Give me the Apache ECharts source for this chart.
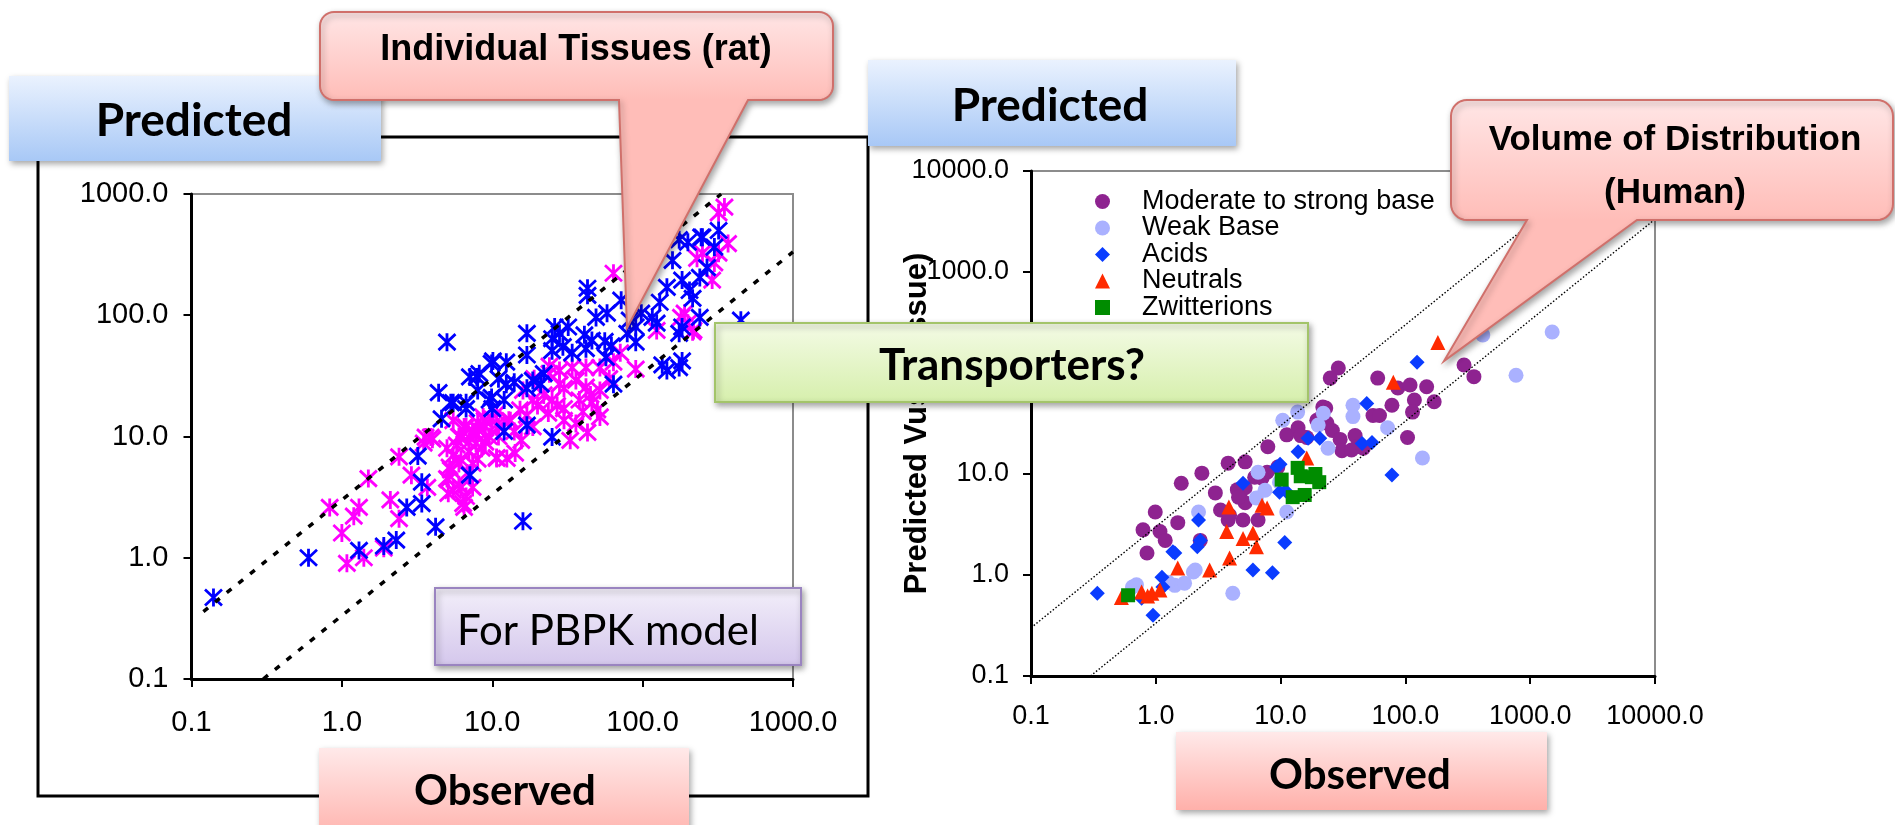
<!DOCTYPE html>
<html><head><meta charset="utf-8">
<script src="https://cdn.jsdelivr.net/npm/echarts@6/dist/echarts.min.js"></script>
<style>html,body{margin:0;padding:0;background:#fff}#c{width:1895px;height:825px}</style>
</head><body><div id="c"></div>
<script>
// ---------- Left chart: individual tissues (rat) ----------
const leftTickLabels = ['0.1', '1.0', '10.0', '100.0', '1000.0'];
const leftMagenta = [
  [0.83,2.6],[1.0,1.6],[1.08,0.9],[1.2,2.2],[1.3,2.6],[1.4,1.0],[1.5,4.5],[1.9,1.2],[2.1,3.0],[2.4,2.1],
  [2.4,6.8],[2.9,4.8],[3.6,9.9],[4.0,9.5],[3.7,3.8],[5.5,3.6],[5.2,5.6],[6.4,2.8],[7.4,3.8],[7.4,6.0],
  [10.7,6.6],[12.5,6.6],[14.2,7.3],[50,16.6],[52,14.5],[43,10.8],[33,9.3],[30,13.6],[36,12.8],[23.6,15.6],
  [18.6,12],[15.6,9.3],[10.7,6.7],[12.9,13.6],[10.7,15.6],[8.1,11.3],[7.4,10.6],[6.2,9.9],[8.9,13.6],[6.2,6.4],
  [5.3,5.3],[6.2,3.8],[6.7,3.2],[6.5,2.6],[5.1,4.4],[5.1,3.4],[3.9,9.9],[3.5,8.8],[5,8],[5.5,7],
  [6,10],[6.5,12],[7,9],[7.5,11],[8,13],[8.5,8],[9,12],[9.5,10],[10,14],[11,12],
  [6,6],[6.8,5],[8,6.5],[5,4.5],[6,4],[7,7.5],[9,9],[11,10],[5.8,8.5],[7.8,8.8],
  [36,29],[42,25.5],[52,24],[28,27],[22,22],[18.6,20],[15.3,16.6],[13.2,13.5],[8.7,14.5],[6.7,12],
  [5.5,13.5],[10.7,12.5],[34,37],[28,35],[24,33],[42,37],[52,37],[64,41],[71,49],[90,36],
  [124,75],[180,96],[200,86],[215,73],[64,222],[350,780],[320,700],[370,390],[320,325],[230,295],
  [290,195],[190,104],[218,75],[250,325],[300,270],[20,18],[25,20],[30,17],[38,20],[45,22],
  [60,30],[16,24],[19,30],[24,38],[30,25],[27,18],[14,11],[17,15],[40,16],[46,19]
];
const leftBlue = [
  [0.14,0.47],[0.6,1.0],[1.3,1.15],[1.9,1.25],[2.3,1.4],[2.7,2.6],[3.4,2.8],[4.2,1.8],[3.4,4.2],[3.2,6.9],
  [7.1,4.8],[16,2.0],[4.6,14],[12,11],[17,12.4],[5.5,19],[6.7,19],[9.6,20],[25,9.9],[5.0,60],
  [4.4,23],[5.3,19],[6.7,17],[7.9,31],[9.9,21],[9.9,40],[12.4,41],[12.4,27],[17,71],[17,47],
  [17,25],[21,27],[25,64],[28,71],[29.5,55],[34,49],[32,80],[43,167],[43,146],[41,69],
  [49,96],[58,104],[62,56],[72,133],[79,71],[82,91],[90,80],[64,27],[57,45],[42,53],
  [46,62],[98,104],[116,96],[130,128],[145,170],[124,86],[90,60],[158,284],[200,400],[245,440],
  [300,365],[183,195],[205,160],[215,138],[240,205],[268,247],[183,80],[175,71],[240,96],[145,35],
  [175,37],[183,42],[450,91],[26,80],[25,51],[175,420],[250,440],[320,500],[11,30],[14,28],
  [18.6,29],[22,33],[8,24],[10,17],[12,20],[7.1,31],[8.2,33],[10.1,42],[56,61],[135,39]
];
const leftUpperGuide = [[0.12, 0.36], [333, 1000]];
const leftLowerGuide = [[0.3, 0.1], [1000, 333]];

// ---------- Right chart: volume of distribution (human) ----------
const rightTickLabels = ['0.1', '1.0', '10.0', '100.0', '1000.0', '10000.0'];
const legendNames = ['Moderate to strong base', 'Weak Base', 'Acids', 'Neutrals', 'Zwitterions'];
const strongBase = [
  [29,112],[25,89],[60,89],[87,71],[109,76],[148,73],[118,54],[170,52],[114,41],[78,48],
  [55,38],[62,38],[104,23],[23,45],[19.5,34],[23.5,32],[26,27],[30,22],[31,17],[39.5,24],
  [41,18.6],[37,17.3],[46,18],[16.2,23],[11.2,24.4],[13.8,28.7],[7.9,18.6],[9.5,11.7],[3.8,12.8],[5.2,13.2],
  [3.0,6.5],[4.7,6.2],[5.2,5.2],[3.3,4.4],[6.2,9.3],[7.8,10.4],[5.0,3.5],[6.6,3.5],[3.8,3.5],[2.34,10.2],
  [1.6,8.1],[0.99,4.2],[0.79,2.8],[1.08,2.7],[1.19,2.2],[1.5,3.3],[0.85,1.65],[2.27,2.2],[5.2,7.3],[4.5,7.0],
  [295,120],[354,92],[21.8,46],[7.1,9.1],[4.6,5.9],[3.9,3.9],[14.5,24],[21,36]
];
const weakBase = [
  [13.7,41],[10.4,34],[38,48],[38,37],[20,30.5],[24,18],[72,28.7],[137,14.4],[6.6,10.4],[6.4,5.8],
  [7.5,6.9],[11.2,4.2],[2.2,4.2],[2.07,1.12],[4.14,0.66],[1.42,0.79],[1.7,0.83],[0.65,0.76],[417,238],[1500,255],
  [770,95],[0.7,0.8],[1.25,0.85],[22,40],[9.8,8.3],[2.0,1.07]
];
const acids = [
  [124,128],[49,50],[16.6,22.6],[20.6,22.6],[45,20],[54,20.5],[13.8,16.6],[9.3,11.7],[5.0,8.1],[9.8,6.6],
  [78,9.8],[2.2,3.5],[1.42,1.65],[2.15,1.9],[2.27,2.2],[10.8,2.1],[6.0,1.12],[8.6,1.05],[1.12,0.95],[1.14,0.76],
  [0.34,0.66],[0.95,0.40],[0.77,0.59],[9.9,12.5],[11,6.8],[1.37,1.7]
];
const neutrals = [
  [182,200],[80,81],[16.2,14.4],[3.85,4.7],[7.1,4.9],[7.8,4.6],[3.7,2.7],[5.0,2.3],[6.0,2.6],[6.4,1.9],
  [3.9,1.47],[2.7,1.12],[1.5,1.17],[0.77,0.68],[0.93,0.66],[1.08,0.71],[0.53,0.6],[0.86,0.62]
];
const zwitterions = [
  [0.6,0.63],[13.7,11.5],[10.2,8.8],[17.8,9.3],[20.4,8.3],[12.5,5.9],[15.6,6.2],[14.5,9.5],[19,10]
];
const rightUpperGuide = [[0.1, 0.3], [3333, 10000]];
const rightLowerGuide = [[0.3, 0.1], [10000, 3333]];

// ---------- helpers ----------
const ARIAL = '"Liberation Sans", Arial, sans-serif';
const CALIBRI = 'Lato, "Open Sans", sans-serif';
const ASTERISK = 'path://M0,0L16,16M16,0L0,16M8,-1L8,17';

function logAxis(gridIndex, min, max, labels, fontSize, margin, extra) {
  const base = Math.round(Math.log10(min));
  return Object.assign({
    type: 'log', logBase: 10, gridIndex, min, max,
    axisLine: { show: true, onZero: false, lineStyle: { color: '#000', width: 3 } },
    axisTick: { show: true, inside: false, length: 8, lineStyle: { color: '#000', width: 2 } },
    minorTick: { show: false }, splitLine: { show: false }, minorSplitLine: { show: false },
    axisLabel: {
      fontSize, fontFamily: ARIAL, color: '#000', margin, hideOverlap: false,
      formatter: v => labels[Math.round(Math.log10(v)) - base]
    }
  }, extra || {});
}

function gradient(c1, c2, mid) {
  const stops = mid != null
    ? [{ offset: 0, color: c1 }, { offset: mid, color: c2 }, { offset: 1, color: c2 }]
    : [{ offset: 0, color: c1 }, { offset: 1, color: c2 }];
  return new echarts.graphic.LinearGradient(0, 0, 0, 1, stops);
}
const SHADOW = { shadowBlur: 6, shadowOffsetX: 2, shadowOffsetY: 3, shadowColor: 'rgba(0,0,0,0.35)' };

function box(x, y, w, h, c1, c2, stroke) {
  return {
    type: 'rect', z: 10, shape: { x, y, width: w, height: h },
    style: Object.assign({ fill: gradient(c1, c2), stroke: stroke || 'none', lineWidth: stroke ? 2 : 0 }, SHADOW)
  };
}
function label(text, x, y, size, family, weight, align) {
  return {
    type: 'text', z: 11,
    style: { text, x, y, fontSize: size, fontFamily: family, fontWeight: weight || 'bold',
      fill: '#000', align: align || 'center', verticalAlign: 'middle' }
  };
}
function callout(x1, y1, x2, y2, r, baseL, baseR, tip) {
  const pts = [];
  const arc = (cx, cy, a0, a1) => {
    for (let i = 0; i <= 8; i++) {
      const a = (a0 + (a1 - a0) * i / 8) * Math.PI / 180;
      pts.push([cx + r * Math.cos(a), cy + r * Math.sin(a)]);
    }
  };
  arc(x1 + r, y1 + r, 180, 270);
  arc(x2 - r, y1 + r, 270, 360);
  arc(x2 - r, y2 - r, 0, 90);
  pts.push([baseR, y2], tip, [baseL, y2]);
  arc(x1 + r, y2 - r, 90, 180);
  const mid = (y2 - y1) / (Math.max(y2, tip[1]) - y1);
  return {
    type: 'polygon', z: 10, shape: { points: pts },
    style: Object.assign({ fill: gradient('#ffe6e6', '#ffbdb8', mid), stroke: '#d0706b', lineWidth: 2 }, SHADOW)
  };
}

function asteriskSeries(name, data, color) {
  return {
    name, type: 'scatter', xAxisIndex: 0, yAxisIndex: 0, data,
    symbol: ASTERISK, symbolSize: [17, 18], symbolKeepAspect: false,
    itemStyle: { color: 'rgba(0,0,0,0)', borderColor: color, borderWidth: 2.9, opacity: 1 },
    emphasis: { disabled: true }, z: 2
  };
}
function markerSeries(name, data, symbol, size, color) {
  return {
    name, type: 'scatter', xAxisIndex: 1, yAxisIndex: 1, data, symbol, symbolSize: size,
    itemStyle: { color, opacity: 1 }, emphasis: { disabled: true }, z: 2
  };
}
function guide(data, xi, width, dash) {
  return {
    type: 'line', xAxisIndex: xi, yAxisIndex: xi, data, symbol: 'none', silent: true, z: 3,
    lineStyle: { color: '#000', width, type: dash, cap: 'butt' }
  };
}

const chart = echarts.init(document.getElementById('c'), null, { renderer: 'canvas' });
chart.setOption({
  animation: false,
  backgroundColor: '#fff',
  grid: [
    { left: 191.5, top: 194, width: 601.5, height: 485, show: true, borderColor: '#8c8c8c', borderWidth: 2,
      backgroundColor: 'transparent', containLabel: false, outerBoundsMode: 'none' },
    { left: 1031, top: 171, width: 624, height: 505, show: true, borderColor: '#8c8c8c', borderWidth: 2,
      backgroundColor: 'transparent', containLabel: false, outerBoundsMode: 'none' }
  ],
  xAxis: [
    logAxis(0, 0.1, 1000, leftTickLabels, 29, 29),
    logAxis(1, 0.1, 10000, rightTickLabels, 27, 27)
  ],
  yAxis: [
    logAxis(0, 0.1, 1000, leftTickLabels, 29, 23),
    logAxis(1, 0.1, 10000, rightTickLabels, 27, 22, {
      name: 'Predicted Vuss (tissue)', nameLocation: 'middle', nameRotate: 90, nameGap: 98,
      nameMoveOverlap: false,
      nameTextStyle: { fontSize: 31, fontWeight: 'bold', fontFamily: ARIAL, color: '#000' }
    })
  ],
  legend: {
    data: legendNames, orient: 'vertical', left: 1090, top: 183,
    itemWidth: 15, itemHeight: 15, itemGap: -0.5, selectedMode: false,
    textStyle: { fontSize: 27, lineHeight: 26, fontFamily: ARIAL, color: '#000', padding: [0, 0, 0, 27] }
  },
  series: [
    asteriskSeries('Magenta', leftMagenta, '#ff00ff'),
    asteriskSeries('Blue', leftBlue, '#0000ff'),
    guide(leftUpperGuide, 0, 3.5, [6, 9]),
    guide(leftLowerGuide, 0, 3.5, [6, 9]),
    markerSeries(legendNames[0], strongBase, 'circle', 15, '#8e2390'),
    markerSeries(legendNames[1], weakBase, 'circle', 15, '#aab1ff'),
    markerSeries(legendNames[2], acids, 'diamond', 15, '#0a3cff'),
    markerSeries(legendNames[3], neutrals, 'triangle', 15, '#ff2a00'),
    markerSeries(legendNames[4], zwitterions, 'rect', 14, '#008c00'),
    guide(rightUpperGuide, 1, 1.4, [1.5, 2]),
    guide(rightLowerGuide, 1, 1.4, [1.5, 2])
  ],
  graphic: { elements: [
    { type: 'rect', z: 1, shape: { x: 38, y: 137, width: 830, height: 659 },
      style: { fill: 'none', stroke: '#000', lineWidth: 3 } },
    box(9, 76, 372, 85, '#eaf2fe', '#a8c8f6'),
    label('Predicted', 194, 121, 46, CALIBRI),
    box(868, 60, 368, 86, '#eaf2fe', '#a8c8f6'),
    label('Predicted', 1050, 106, 46, CALIBRI),
    box(319, 748, 370, 95, '#ffe9e9', '#ffb0aa'),
    label('Observed', 505, 791, 42, CALIBRI),
    box(1176, 732, 371, 78, '#ffe9e9', '#ffb0aa'),
    label('Observed', 1360, 775, 42, CALIBRI),
    box(715, 323, 593, 79, '#f4fbe6', '#d6efac', '#a3c46a'),
    label('Transporters?', 1012, 366, 44, CALIBRI),
    box(435, 588, 366, 77, '#f3effa', '#d4c7ec', '#9a84c0'),
    label('For PBPK model', 457, 631, 42, CALIBRI, 'normal', 'left'),
    callout(320, 12, 833, 100, 14, 619, 748, [627, 328]),
    label('Individual Tissues (rat)', 576, 50, 36, ARIAL),
    callout(1451, 100, 1893, 220, 16, 1527, 1637, [1444, 361]),
    label('Volume of Distribution', 1675, 140, 35, ARIAL),
    label('(Human)', 1675, 193, 35, ARIAL)
  ] }
});
</script></body></html>
